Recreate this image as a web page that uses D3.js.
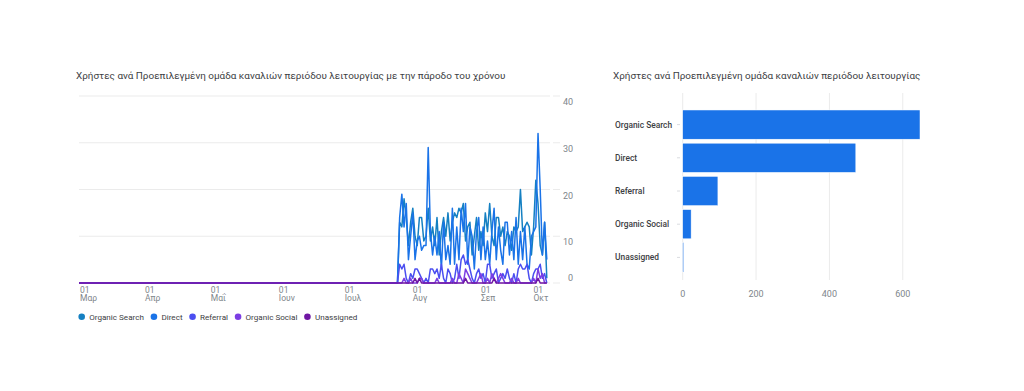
<!DOCTYPE html>
<html><head><meta charset="utf-8">
<script src="https://cdn.jsdelivr.net/npm/d3@7"></script>
<style>
html,body{margin:0;padding:0;background:#fff;}
svg{display:block;font-family:Roboto, "Noto Sans", sans-serif;}
</style></head>
<body><svg id="c" width="1024" height="391"></svg>
<script>
// ---------- DATA ----------
const lineTitle = "Χρήστες ανά Προεπιλεγμένη ομάδα καναλιών περιόδου λειτουργίας με την πάροδο του χρόνου";
const barTitle = "Χρήστες ανά Προεπιλεγμένη ομάδα καναλιών περιόδου λειτουργίας";
const seriesNames = ["Organic Search", "Direct", "Referral", "Organic Social", "Unassigned"];
const rangeStart = "2024-03-02";
const rangeEnd = "2024-10-02";
// every series reads 0 from rangeStart until the day before activeStart
const activeStart = "2024-07-26";
const organicSearch = [13,12,18,14,8,13,16,10,8,14,14,9,10,16,9,12,8,14,6,11,14,10,15,9,13,15,14,16,15,17,9,12,13,6,10,14,7,11,8,15,11,17,10,8,14,14,10,12,8,11,10,7,12,11,12,20,11,12,13,12,6,12,22,17,8,6,13,1];
const direct = [14,19,12,17,5,10,15,5,9,10,7,8,8,29,11,6,10,6,11,3,13,5,8,4,16,4,12,5,16,11,17,4,12,10,3,11,14,5,12,5,9,4,11,16,5,12,7,4,13,13,6,11,5,14,4,11,5,12,4,3,10,11,12,32,20,6,13,5];
const referral = [4,3,4,1,0,2,1,3,3,2,1,0,1,0,3,3,2,3,1,4,1,0,3,2,0,1,4,1,5,6,4,5,3,1,0,2,3,1,2,0,4,4,1,2,3,0,1,2,1,3,1,0,2,0,3,4,3,3,4,1,0,2,3,3,4,1,2,0];
const organicSocial = [0,0,1,0,0,1,0,0,0,1,1,0,0,0,0,0,0,1,0,0,0,0,0,0,1,0,0,2,1,0,3,2,1,0,0,0,1,2,0,0,1,0,2,1,0,1,2,1,0,0,0,1,0,0,1,0,0,0,0,0,0,1,0,3,1,2,0,0];
const unassigned = [0,0,0,0,0,0,0,1,0,1,0,0,0,0,0,0,0,0,0,0,0,0,0,0,0,0,0,0,0,0,1,0,0,0,0,0,0,0,0,0,0,0,0,1,0,0,0,0,0,0,0,0,0,0,0,0,0,0,0,0,0,0,0,1,0,0,0,0];
const yTicks = [0, 10, 20, 30, 40];
const monthTicks = ["2024-03-01","2024-04-01","2024-05-01","2024-06-01","2024-07-01","2024-08-01","2024-09-01","2024-10-01"];
const monthLabels = ["Μαρ","Απρ","Μαΐ","Ιουν","Ιουλ","Αυγ","Σεπ","Οκτ"];
const barCategories = ["Organic Search", "Direct", "Referral", "Organic Social", "Unassigned"];
const barValues = [647, 472, 96, 23, 2];
const barTicks = [0, 200, 400, 600];
const colors = ["#1580c2", "#1a73e8", "#4b4ef0", "#7c3ee3", "#6f16a3"];

// ---------- LINE CHART ----------
const svg = d3.select("#c");
const parse = d3.utcParse("%Y-%m-%d");
const day = 864e5;
const x = d3.scaleUtc().domain([parse(rangeStart), parse(rangeEnd)]).range([79, 549]);
const y = d3.scaleLinear().domain([0, 40]).range([283, 96]);

function fitTitle(t, target) {
  const w = t.node().getComputedTextLength();
  const fs = +t.attr("font-size");
  t.attr("font-size", fs * target / w);
}
fitTitle(svg.append("text").attr("x", 76).attr("y", 78.5).attr("font-size", 10).attr("fill", "#3c4043")
  .text(lineTitle), 430);

// gridlines
svg.append("g").selectAll("line").data(yTicks).join("line")
  .attr("x1", 79).attr("x2", 550).attr("y1", d => y(d)).attr("y2", d => y(d))
  .attr("stroke", "#ebebeb").attr("stroke-width", 1);
svg.append("g").selectAll("line").data(yTicks).join("line")
  .attr("x1", 553).attr("x2", 560).attr("y1", d => y(d)).attr("y2", d => y(d))
  .attr("stroke", "#ebebeb").attr("stroke-width", 1);
svg.append("g").selectAll("text").data(yTicks).join("text")
  .attr("x", 573).attr("y", d => d === 0 ? y(d) - 5 : y(d) + 6)
  .attr("dy", "0.35em").attr("text-anchor", "end").attr("font-size", 9).attr("fill", "#80868b")
  .text(d => d);

// x labels
const xl = svg.append("g");
monthTicks.forEach((m, i) => {
  const g = xl.append("g");
  g.append("text").attr("y", 290).attr("dy", "0.35em").attr("font-size", 8.5).attr("fill", "#80868b").text("01");
  g.append("text").attr("y", 298.5).attr("dy", "0.35em").attr("font-size", 8.5).attr("fill", "#80868b").text(monthLabels[i]);
  const w = g.node().getBBox().width;
  let px = x(parse(m));
  px = Math.max(80, Math.min(px, 549 - w));
  g.attr("transform", `translate(${px},0)`);
});

// lines
const seriesValues = [organicSearch, direct, referral, organicSocial, unassigned];
const a0 = parse(activeStart);
const line = d3.line().x(d => x(d.date)).y(d => y(d.v));
seriesValues.forEach((vals, si) => {
  const pts = [{date: parse(rangeStart), v: 0}, {date: new Date(+a0 - day), v: 0}]
    .concat(vals.map((v, i) => ({date: new Date(+a0 + i * day), v})));
  svg.append("path").datum(pts).attr("d", line).attr("fill", "none")
    .attr("stroke", colors[si]).attr("stroke-width", 1.5).attr("stroke-linejoin", "round");
});

// legend
let lx = 81.7;
const lg = svg.append("g");
seriesNames.forEach((n, i) => {
  lg.append("circle").attr("cx", lx).attr("cy", 316.7).attr("r", 3.3).attr("fill", colors[i]);
  const t = lg.append("text").attr("x", lx + 7.5).attr("y", 316.7).attr("dy", "0.35em")
    .attr("font-size", 8.1).attr("fill", "#3c4043").text(n);
  lx = lx + 7.5 + t.node().getComputedTextLength() + 10;
});

// ---------- BAR CHART ----------
fitTitle(svg.append("text").attr("x", 613).attr("y", 78.5).attr("font-size", 10).attr("fill", "#3c4043")
  .text(barTitle), 308);
const bx = d3.scaleLinear().domain([0, barValues[0]]).range([682.7, 920]);
const by = d3.scaleBand().domain(barCategories).range([108, 274]).paddingInner(0.12).paddingOuter(0.06);

svg.append("g").selectAll("line").data(barTicks).join("line")
  .attr("x1", d => bx(d)).attr("x2", d => bx(d)).attr("y1", 93).attr("y2", 280)
  .attr("stroke", "#ebebeb").attr("stroke-width", 1);
svg.append("g").selectAll("text").data(barTicks).join("text")
  .attr("x", d => bx(d)).attr("y", 293.5).attr("dy", "0.35em").attr("text-anchor", "middle")
  .attr("font-size", 9).attr("fill", "#80868b").text(d => d);
svg.append("g").selectAll("line").data(barCategories).join("line")
  .attr("x1", 677).attr("x2", 680).attr("y1", d => by(d) + by.bandwidth() / 2).attr("y2", d => by(d) + by.bandwidth() / 2)
  .attr("stroke", "#dadce0");
svg.append("g").selectAll("rect").data(barValues).join("rect")
  .attr("x", bx(0)).attr("y", (d, i) => by(barCategories[i]))
  .attr("width", d => Math.max(1, bx(d) - bx(0))).attr("height", by.bandwidth())
  .attr("fill", "#1a73e8").attr("stroke", "#fff").attr("stroke-width", 0.5);
svg.append("g").selectAll("text").data(barCategories).join("text")
  .attr("x", 615).attr("y", d => by(d) + by.bandwidth() / 2).attr("dy", "0.35em")
  .attr("font-size", 8.4).attr("font-weight", 500).attr("fill", "#3c4043").text(d => d);
</script></body></html>
